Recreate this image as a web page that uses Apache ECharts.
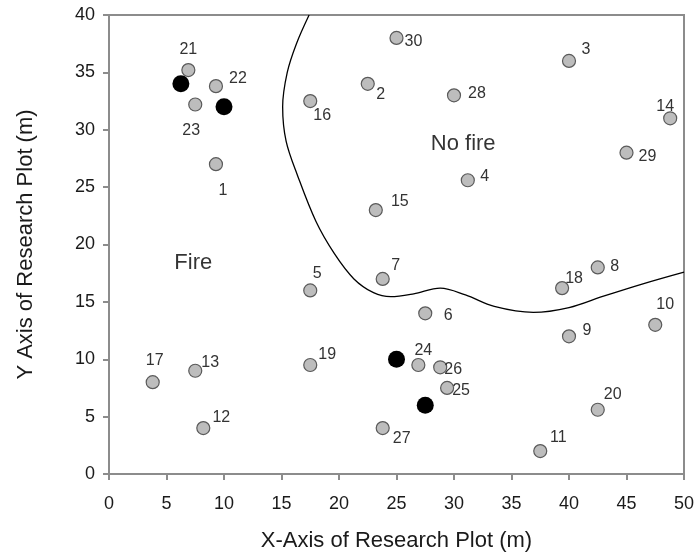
<!DOCTYPE html>
<html><head><meta charset="utf-8">
<script src="https://cdn.jsdelivr.net/npm/echarts@6/dist/echarts.min.js"></script>
<style>html,body{margin:0;padding:0;background:#fff}#c{width:698px;height:558px}</style>
</head><body><div id="c"></div>
<script>
// ---- data ----
const plotIds = ['1','2','3','4','5','6','7','8','9','10','11','12','13','14','15','16','17','18','19','20','21','22','23','24','25','26','27','28','29','30'];
const plotX = [9.3,22.5,40,31.2,17.5,27.5,23.8,42.5,40,47.5,37.5,8.2,7.5,48.8,23.2,17.5,3.8,39.4,17.5,42.5,6.9,9.3,7.5,26.9,29.4,28.8,23.8,30,45,25];
const plotY = [27,34,36,25.6,16,14,17,18,12,13,2,4,9,31,23,32.5,8,16.2,9.5,5.6,35.2,33.8,32.2,9.5,7.5,9.3,4,33,28,38];
const fireX = [6.25,10,25,27.5];
const fireY = [34,32,10,6];
const boundaryX = [17.4,16.3,15.5,15.1,15.4,16.4,18,19.6,21.3,23,24.5,26.5,28.8,31,33.5,36.9,40,43,46.5,50];
const boundaryY = [40,37.5,35,32,29,26,22,19.2,17,15.8,15.45,15.7,16.2,15.6,14.6,14.08,14.5,15.5,16.6,17.6];
const regionNames = ['No fire','Fire'];
const regionX = [30.8,7.33];
const regionY = [28.8,18.35];
const xTicks = [0,5,10,15,20,25,30,35,40,45,50];
const yTicks = [0,5,10,15,20,25,30,35,40];

// ---- label placement (styling, px offsets) ----
const labelOffsets = {
 '1':[7,26],'2':[13,11],'3':[17,-11],'4':[17,-4],'5':[7,-17],'6':[23,2],'7':[13,-13],'8':[17,-1],
 '9':[18,-6],'10':[10,-20],'11':[18,-13],'12':[18,-11],'13':[15,-8],'14':[-5,-12],'15':[24,-8],
 '16':[12,15],'17':[2,-22],'18':[12,-10],'19':[17,-10],'20':[15,-15],'21':[0,-20],'22':[22,-8],
 '23':[-4,26],'24':[5,-14],'25':[14,3],'26':[13,2],'27':[19,10],'28':[23,-2],'29':[21,4],'30':[17,4]
};

const grayData = plotIds.map((id,i)=>({
  value:[plotX[i],plotY[i]], name:id,
  label:{show:true, formatter:id, position:'inside', offset:labelOffsets[id]}
}));
const fireData = fireX.map((x,i)=>[x,fireY[i]]);
const boundary = boundaryX.map((x,i)=>[x,boundaryY[i]]);
const regions = regionNames.map((n,i)=>({value:[regionX[i],regionY[i]], name:n}));

const FONT = 'Liberation Sans, Arial, sans-serif';
const chart = echarts.init(document.getElementById('c'));
chart.setOption({
  animation:false,
  grid:{left:109,right:14,top:15,bottom:84,show:true,borderColor:'#8c8c8c',borderWidth:2,backgroundColor:'transparent'},
  xAxis:{type:'value',min:0,max:50,interval:5,
    name:'X-Axis of Research Plot (m)',nameLocation:'middle',nameGap:56,
    nameTextStyle:{fontFamily:FONT,fontSize:22,color:'#1a1a1a'},
    axisLine:{show:true,onZero:false,lineStyle:{color:'#8c8c8c',width:2}},
    axisTick:{show:true,inside:false,length:6,lineStyle:{color:'#8c8c8c',width:2}},
    axisLabel:{fontFamily:FONT,fontSize:18,color:'#1a1a1a',margin:21},
    splitLine:{show:false}},
  yAxis:{type:'value',min:0,max:40,interval:5,
    name:'Y Axis of Research Plot (m)',nameLocation:'middle',nameGap:72,
    nameTextStyle:{fontFamily:FONT,fontSize:22,color:'#1a1a1a'},
    axisLine:{show:true,onZero:false,lineStyle:{color:'#8c8c8c',width:2}},
    axisTick:{show:true,inside:false,length:6,lineStyle:{color:'#8c8c8c',width:2}},
    axisLabel:{fontFamily:FONT,fontSize:18,color:'#1a1a1a',margin:14},
    splitLine:{show:false}},
  series:[
    {type:'line',data:boundary,smooth:0.35,symbol:'none',silent:true,
     lineStyle:{color:'#000',width:1.3},z:2},
    {type:'scatter',data:grayData,symbol:'circle',symbolSize:13,
     itemStyle:{color:'#bdbdbd',borderColor:'#5a5a5a',borderWidth:1.2,opacity:1},
     label:{fontFamily:FONT,fontSize:16,color:'#333'},z:3},
    {type:'scatter',data:fireData,symbol:'circle',symbolSize:17,
     itemStyle:{color:'#000',opacity:1},z:4},
    {type:'scatter',data:regions,symbolSize:0,silent:true,
     label:{show:true,position:'inside',formatter:'{b}',fontFamily:FONT,fontSize:22,color:'#000'},z:5}
  ]
});
</script></body></html>
